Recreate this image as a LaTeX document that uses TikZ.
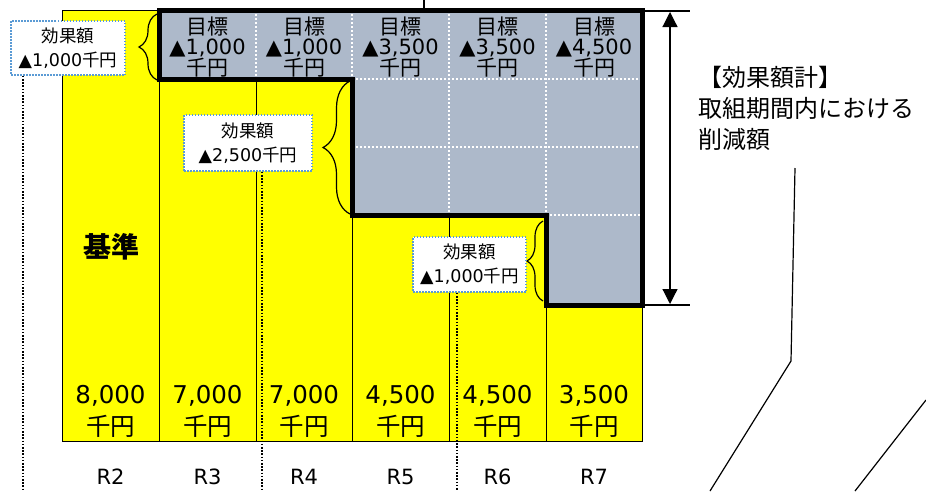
\documentclass[tikz,border=0pt]{standalone}
\usepackage{fontspec}
\setmainfont{DejaVu Sans}
\newfontfamily\jp{Noto Sans CJK JP}
\usetikzlibrary{arrows.meta,decorations.pathreplacing}
\definecolor{bary}{RGB}{255,255,0}
\definecolor{greyb}{RGB}{173,185,202}
\definecolor{boxblue}{RGB}{91,155,213}
\begin{document}
\begin{tikzpicture}[x=1pt,y=-1pt,
  col/.style={draw=black, line width=1pt, fill=bary},
  wdot/.style={draw=white, line width=2pt, dash pattern=on 2pt off 2pt},
  bdot/.style={draw=black, line width=1.8pt, dash pattern=on 1.6pt off 1.6pt},
  thick border/.style={draw=black, line width=5pt, line join=miter},
  callout/.style={draw=boxblue, line width=1.5pt, dash pattern=on 1.5pt off 1.5pt, fill=white, inner sep=0pt, align=center, font=\fontsize{17.5}{24}\selectfont},
  brc/.style={decorate, decoration={brace, amplitude=#1}, line width=1.2pt},
  gtext/.style={align=center, inner sep=0pt, font=\fontsize{21}{20.5}\selectfont},
  vtext/.style={align=center, inner sep=0pt, font=\fontsize{24.5}{32}\selectfont},
  rtext/.style={inner sep=0pt, font=\fontsize{21}{21}\selectfont},
  thinline/.style={draw=black, line width=1.2pt},
  dblarrow/.style={line width=1.2pt, {Triangle[length=15pt,width=15pt]}-{Triangle[length=15pt,width=15pt]}}
]
\useasboundingbox (0,0) rectangle (926,491);
% yellow columns
\foreach \a/\b in {62/159,159/256,256/352,352/449,449/546,546/642}{
  \draw[col] (\a,10) rectangle (\b,441);
}
% grey reduction area
\fill[greyb] (159,10) -- (642,10) -- (642,305) -- (546,305) -- (546,215) -- (352,215) -- (352,79) -- (159,79) -- cycle;
\draw[wdot] (256,10) -- (256,79);
\draw[wdot] (352,10) -- (352,79);
\draw[wdot] (449,10) -- (449,215);
\draw[wdot] (546,10) -- (546,215);
\draw[wdot] (352,79) -- (642,79);
\draw[wdot] (352,147) -- (642,147);
\draw[wdot] (546,215) -- (642,215);
% target texts
\node[gtext] (g3) at (207.5,47) {{\jp 目標}\\▲1,000\\{\jp 千円}};
\node[gtext] (g4) at (304,47) {{\jp 目標}\\▲1,000\\{\jp 千円}};
\node[gtext] (g5) at (400.5,47) {{\jp 目標}\\▲3,500\\{\jp 千円}};
\node[gtext] (g6) at (497.5,47) {{\jp 目標}\\▲3,500\\{\jp 千円}};
\node[gtext] (g7) at (594,47) {{\jp 目標}\\▲4,500\\{\jp 千円}};
% thick border
\draw[thick border] (159,10) -- (642,10) -- (642,305) -- (546,305) -- (546,215) -- (352,215) -- (352,79) -- (159,79) -- cycle;
% base label
\node[inner sep=0pt, font=\fontsize{28}{28}\selectfont\jp\bfseries] (base) at (111,247) {基準};
% values
\node[vtext] (v2) at (110.5,411) {8,000\\{\jp 千円}};
\node[vtext] (v3) at (207.5,411) {7,000\\{\jp 千円}};
\node[vtext] (v4) at (304,411) {7,000\\{\jp 千円}};
\node[vtext] (v5) at (400.5,411) {4,500\\{\jp 千円}};
\node[vtext] (v6) at (497.5,411) {4,500\\{\jp 千円}};
\node[vtext] (v7) at (594,411) {3,500\\{\jp 千円}};
% year labels
\node[rtext] (r2) at (110.5,477) {R2};
\node[rtext] (r3) at (207.5,477) {R3};
\node[rtext] (r4) at (304,477) {R4};
\node[rtext] (r5) at (400.5,477) {R5};
\node[rtext] (r6) at (497.5,477) {R6};
\node[rtext] (r7) at (594,477) {R7};
% braces
\draw[brc=18pt] (157,80) -- (157,14);
\draw[brc=27pt] (350,214) -- (350,81);
\draw[brc=16pt] (543,301) -- (543,221);
% callouts
\node[callout, minimum width=114pt, minimum height=54pt] (box1) at (68,48) {{\jp 効果額}\\▲1,000{\jp 千円}};
\node[callout, minimum width=128pt, minimum height=56pt] (box2) at (248,143) {{\jp 効果額}\\▲2,500{\jp 千円}};
\node[callout, minimum width=113pt, minimum height=55pt] (box3) at (469.5,264.5) {{\jp 効果額}\\▲1,000{\jp 千円}};
\coordinate (d1) at (23,491);
\coordinate (d2) at (262,491);
\coordinate (d3) at (457,491);
\draw[bdot] (d1 |- box1.south) -- (d1);
\draw[bdot] (d2 |- box2.south) -- (d2);
\draw[bdot] (d3 |- box3.south) -- (d3);
% total arrow
\coordinate (at) at (670,12);
\coordinate (ab) at (670,304);
\draw[dblarrow] (at) -- (ab);
\coordinate (t1) at (645,11);
\coordinate (t2) at (690,11);
\coordinate (t3) at (642,305);
\coordinate (t4) at (690,305);
\draw[thinline] (t1) -- (t2);
\draw[thinline] (t3) -- (t4);
\node[anchor=west, align=left, inner sep=0pt, font=\fontsize{24}{31}\selectfont\jp] (sum) at (698,108) {【効果額計】\\取組期間内における\\削減額};
% other lines
\coordinate (l1) at (795,168);
\coordinate (l2) at (791,361);
\coordinate (l3) at (710,491);
\draw[thinline] (l1) -- (l2) -- (l3);
\coordinate (m1) at (926,400);
\coordinate (m2) at (855,491);
\draw[thinline] (m1) -- (m2);
\coordinate (k1) at (424,0);
\coordinate (k2) at (424,9);
\draw[thinline] (k1) -- (k2);
\end{tikzpicture}
\end{document}
